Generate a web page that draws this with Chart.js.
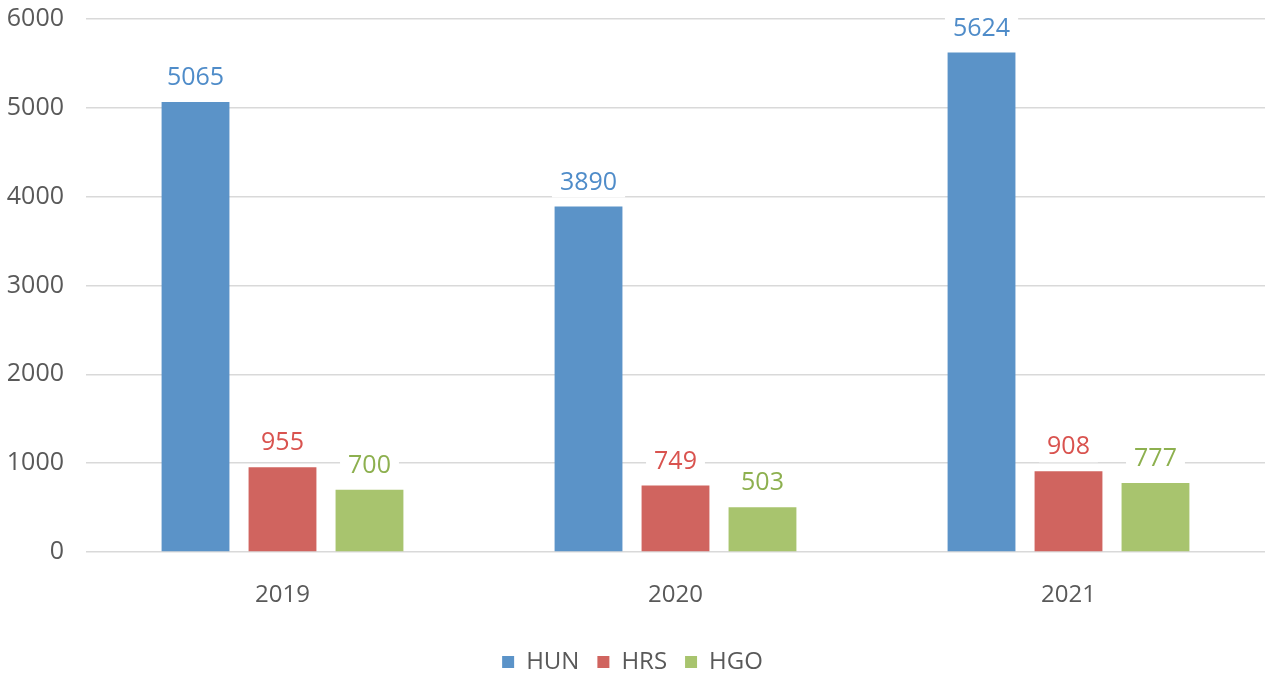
<!DOCTYPE html>
<html>
<head>
<meta charset="utf-8">
<script src="https://cdn.jsdelivr.net/npm/chart.js@4.4.1/dist/chart.umd.min.js"></script>
<style>
  html, body { margin: 0; padding: 0; background: #fff; }
  #wrap { width: 1266px; height: 679px; }
</style>
</head>
<body>
<div id="wrap"><canvas id="c"></canvas></div>
<script>
const years = ['2019', '2020', '2021'];
const hun = [5065, 3890, 5624];
const hrs = [955, 749, 908];
const hgo = [700, 503, 777];
const yTicks = [0, 1000, 2000, 3000, 4000, 5000, 6000];

const FONT = "'Open Sans', sans-serif";

// value labels above bars, on a white box that cuts the gridlines
const barLabels = {
  id: 'barLabels',
  afterDatasetsDraw(chart) {
    const ctx = chart.ctx;
    ctx.save();
    ctx.font = `25px ${FONT}`;
    ctx.textAlign = 'center';
    ctx.textBaseline = 'middle';
    chart.data.datasets.forEach((ds, i) => {
      chart.getDatasetMeta(i).data.forEach((bar, j) => {
        const txt = String(ds.data[j]);
        const w = ctx.measureText(txt).width + 16;
        const cy = bar.y - 24;
        ctx.fillStyle = '#fff';
        ctx.fillRect(bar.x - w / 2, cy - 15, w, 30);
        ctx.fillStyle = ds.labelColor;
        ctx.fillText(txt, bar.x, cy);
      });
    });
    ctx.restore();
  }
};

new Chart(document.getElementById('c'), {
  type: 'bar',
  data: {
    labels: years,
    datasets: [
      { label: 'HUN', data: hun, backgroundColor: '#5b93c8', labelColor: '#4f8cc9' },
      { label: 'HRS', data: hrs, backgroundColor: '#d0645f', labelColor: '#d9534f' },
      { label: 'HGO', data: hgo, backgroundColor: '#a8c46e', labelColor: '#8db04f' },
    ],
  },
  options: {
    responsive: true,
    maintainAspectRatio: false,
    animation: false,
    layout: { padding: { top: 19, right: 1, bottom: -5, left: 0 } },
    datasets: { bar: { categoryPercentage: 0.664, barPercentage: 0.78 } },
    plugins: {
      legend: {
        position: 'bottom',
        labels: {
          color: '#595959',
          font: { family: FONT, size: 24 },
          boxWidth: 12, boxHeight: 12,
          padding: 18,
        },
      },
      tooltip: { enabled: false },
    },
    scales: {
      x: {
        grid: { display: false },
        border: { display: false },
        ticks: { color: '#595959', font: { family: FONT, size: 24 }, padding: 21 },
        afterFit(s) { s.height = 80; },
      },
      y: {
        min: 0, max: 6000,
        afterBuildTicks(s) { s.ticks = yTicks.map(v => ({ value: v })); },
        grid: { color: '#d9d9d9', lineWidth: 1.5, drawTicks: false },
        border: { display: false },
        ticks: { color: '#595959', font: { family: FONT, size: 25 }, padding: 22, callback: v => String(v) },
        afterFit(s) { s.width = 86; s.paddingTop = 0; s.paddingBottom = 0; },
      },
    },
  },
  plugins: [barLabels],
});
</script>
</body>
</html>
